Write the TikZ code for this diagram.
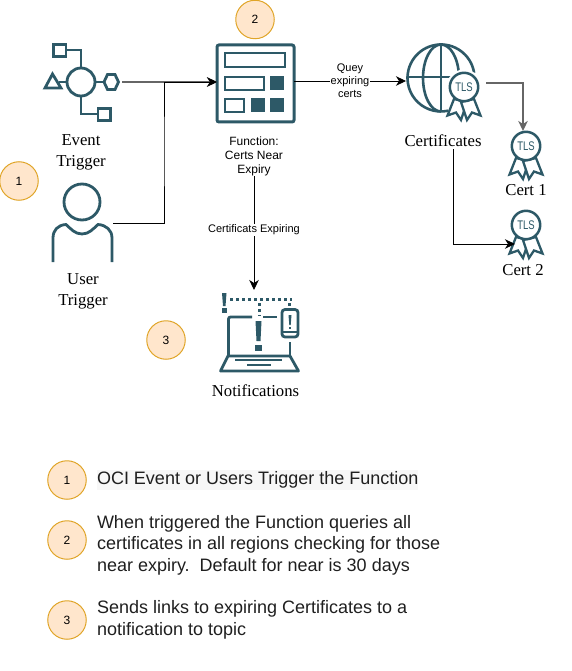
\documentclass[tikz,border=0pt]{standalone}
\usepackage{fontspec}
\usepackage{graphicx}
\setmainfont{Liberation Serif}
\setsansfont{Liberation Sans}
\usetikzlibrary{arrows.meta}
\definecolor{teal}{HTML}{2D5967}
\definecolor{numfill}{HTML}{FFE6CC}
\definecolor{numline}{HTML}{E0A528}
\tikzset{
  x=1pt,y=-1pt,
  icon/.style={draw=teal,line width=2.8pt,line join=miter},
  iconfill/.style={fill=teal,draw=none},
  box/.style={inner sep=0pt,outer sep=0pt},
  num/.style={circle,draw=numline,fill=numfill,line width=1pt,minimum size=38.5pt,inner sep=0pt,font=\sffamily\fontsize{12}{14}\selectfont},
  seriflabel/.style={box,align=center,font=\rmfamily\fontsize{16.7}{21}\selectfont},
  funclabel/.style={box,align=center,font=\sffamily\fontsize{12}{14}\selectfont},
  edgelabel/.style={fill=white,inner sep=1pt,align=center,font=\sffamily\fontsize{11}{13}\selectfont},
  legend/.style={box,anchor=west,align=left,text=black!88,font=\sffamily\fontsize{18}{21.5}\selectfont},
  conn/.style={draw=black,line width=0.85pt,-{Stealth[length=10pt,width=9.5pt,inset=3pt]}},
  greyconn/.style={conn,draw=black!60,line width=1.5pt},
  pics/tlsbadge/.style={code={
    \fill[white] (0,0) circle[radius=17.5];
    \draw[icon,fill=white,line width=2.3pt] (-10,12) -- (-16.5,28.5) -- (-8,25.5) -- (-3,33) -- (3,15) -- cycle;
    \draw[icon,fill=white,line width=2.3pt] (10,12) -- (16.5,28.5) -- (8,25.5) -- (3,33) -- (-3,15) -- cycle;
    \draw[icon,fill=white,line width=2.5pt] (0,0) circle[radius=14.2];
    \node[box,text=teal,font=\sffamily\fontsize{12.5}{13}\selectfont] (-tls) at (0,0) {\scalebox{0.76}[1]{TLS}};
  }}
}
\begin{document}
\begin{tikzpicture}
\useasboundingbox (0,0) rectangle (572,671);

% Icon anchor nodes
\node[box,minimum width=78pt,minimum height=78pt] (event) at (83,82) {};
\node[box,minimum width=60pt,minimum height=78pt] (user) at (83,223) {};
\node[box,draw=teal,line width=3pt,rounded corners=2pt,minimum width=77pt,minimum height=77pt] (func) at (255.5,83.5) {};
\node[box,minimum width=80pt,minimum height=78pt] (globe) at (446,81) {};
\node[box,minimum width=32pt,minimum height=48pt] (certa) at (526,155) {};
\node[box,minimum width=32pt,minimum height=48pt] (certb) at (526,235) {};
\node[box,minimum width=80pt,minimum height=82pt] (notif) at (260,331) {};
\coordinate (jog) at (164,150);

% Event trigger icon
\draw[icon] (81,82) circle[radius=14];
\draw[icon] (53.5,44.5) rectangle (66,56.5);
\draw[icon] (66,50) -- (81,50) -- (81,68);
\draw[icon] (81,96) -- (81,114) -- (98,114);
\draw[icon] (98,108.5) rectangle (110.5,120.5);
\draw[icon] (45,88) -- (61,88) -- (52.5,74) -- cycle;
\draw[icon] (59,82) -- (67,82);
\draw[icon] (95,82) -- (103,82);
\draw[icon] (104,82) -- (107.5,74.5) -- (115,74.5) -- (118.5,82) -- (115,89.5) -- (107.5,89.5) -- cycle;

% User icon
\draw[icon] (82,202) circle[radius=18];
\draw[icon] (53,262) -- (53,238) .. controls (53,230) and (58,225) .. (66,224.5)
  .. controls (71,229) and (75,234) .. (82,234) .. controls (89,234) and (93,229) .. (98,224.5)
  .. controls (106,225) and (112,230) .. (112,238) -- (112,262);

% Function icon
\draw[icon,line width=2.5pt] (225,53) rectangle (285,67);
\draw[icon,line width=2.5pt] (225,77) rectangle (264,90);
\draw[icon,line width=2.5pt] (225,99) rectangle (244,112);
\fill[iconfill] (270,76) rectangle (284,90);
\fill[iconfill] (251,98) rectangle (265,112);
\fill[iconfill] (270,98) rectangle (284,112);

% Globe with badge
\draw[icon,line width=2.6pt] (441,78) ++(-9:33.5) arc[start angle=-9,end angle=-282,radius=33.5];
\draw[icon,line width=2.6pt] (441,44.5) -- (441,111.5);
\draw[icon,line width=2.6pt] (407.5,77) -- (452,77);
\draw[icon,line width=2.6pt] (441,44.5) arc[start angle=-90,end angle=-270,x radius=18,y radius=33.5];
\draw[icon,line width=2.6pt] (441,44.5) arc[start angle=-90,end angle=-5,x radius=18,y radius=33.5];
\pic (globebadge) at (464,87) {tlsbadge};

% Certificates badges
\pic (badgea) at (526,146) {tlsbadge};
\pic (badgeb) at (526,225) {tlsbadge};

% Notifications icon
\fill[iconfill] (222,293) -- (226.5,293) -- (225.5,306) -- (223,306) -- cycle;
\fill[iconfill] (222,308) rectangle (226.5,312.5);
\draw[teal,line width=3pt,dash pattern=on 3pt off 3pt] (230,299) -- (292,299);
\draw[teal,line width=3pt,dash pattern=on 3pt off 3pt] (259,303) -- (259,316);
\draw[teal,line width=3pt] (289,303) -- (289,306);
\draw[icon,rounded corners=2pt] (228.5,355) -- (228.5,317) -- (252,317);
\draw[icon] (263,317) -- (277,317);
\draw[icon] (290,342) -- (290,355);
\draw[icon,line join=round] (228,356) -- (290,356) -- (298.5,371) -- (220.5,371) -- cycle;
\draw[icon] (235,360) -- (282,360);
\draw[icon] (247,365) -- (271,365);
\fill[iconfill] (255.5,321) -- (261.5,321) -- (260.5,341) -- (256.5,341) -- cycle;
\fill[iconfill] (255,345) rectangle (261.5,351);
\draw[icon,rounded corners=3pt] (282,309.5) rectangle (298,337);
\draw[icon,line width=2.2pt] (282,332) -- (298,332);
\fill[iconfill] (288.5,315) -- (291.5,315) -- (290.7,325) -- (289.3,325) -- cycle;
\fill[iconfill] (288.7,326.5) rectangle (291.3,329);

% Labels
\node[seriflabel] (eventlabel) at (81,152) {Event\\Trigger};
\node[seriflabel] (userlabel) at (83,291) {User\\Trigger};
\node[funclabel] (funcname) at (254,156.5) {Function:\\Certs Near\\Expiry};
\node[seriflabel] (certlabel) at (443,140.5) {Certificates};
\node[seriflabel] (certalabel) at (526,190) {Cert 1};
\node[seriflabel] (certblabel) at (523,270) {Cert 2};
\node[seriflabel] (notiflabel) at (255.5,391) {Notifications};

% Connectors
\draw[greyconn] (event.east) -- (event.east -| func.west);
\draw[conn] (user.east) -| (jog) |- (event.east -| func.west);
\draw[conn] (func.east |- globe.west) -- node[edgelabel] (querylabel) {Quey\\expiring\\certs} (globe.west);
\draw[greyconn] ([yshift=-2pt]globe.east) -| ([xshift=-3pt]certa.north);
\draw[conn] ([xshift=10pt,yshift=-3pt]certlabel.south) |- ([xshift=5pt,yshift=-9pt]certb.west);
\draw[conn] (funcname.south) -- node[edgelabel,pos=0.47] (expirylabel) {Certificats Expiring} (funcname.south |- notif.north);

% Numbered circles
\node[num] (one) at (19,181) {1};
\node[num] (two) at (255,19.5) {2};
\node[num] (three) at (166,340) {3};
\node[num] (legendone) at (67,480) {1};
\node[num] (legendtwo) at (67,540) {2};
\node[num] (legendthree) at (67,620) {3};

% Legend
\node[legend,fill=black!3,minimum height=20pt] (legendtexta) at (97,479.5) {OCI Event or Users Trigger the Function};
\node[legend] (legendtextb) at (97,545) {When triggered the Function queries all\\certificates in all regions checking for those\\near expiry.\ \ Default for near is 30 days};
\node[legend] (legendtextc) at (97,620) {Sends links to expiring Certificates to a\\notification to topic};
\end{tikzpicture}
\end{document}
